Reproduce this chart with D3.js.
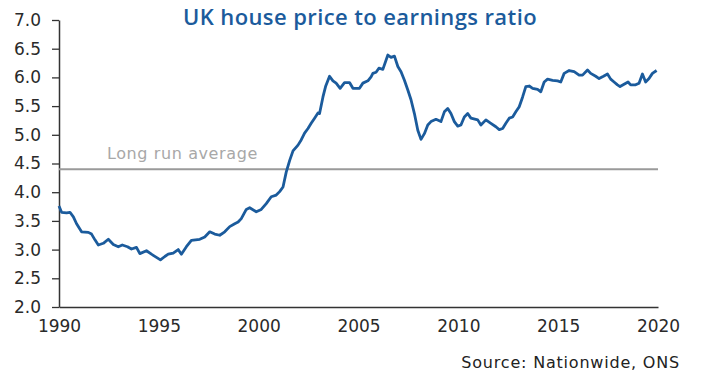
<!DOCTYPE html>
<html>
<head>
<meta charset="utf-8">
<script src="https://cdn.jsdelivr.net/npm/d3@7"></script>
<style>
  body { margin: 0; background: #fff; }
  text { font-family: "DejaVu Sans", sans-serif; }
</style>
</head>
<body>
<div id="chart"></div>
<script>
// UK house price to earnings ratio
const years = [
  1990.0, 1990.13, 1990.38, 1990.55, 1990.72, 1990.88, 1991.13, 1991.47, 1991.63, 1991.8,
  1991.97, 1992.22, 1992.47, 1992.72, 1992.97, 1993.17, 1993.43, 1993.63, 1993.88, 1994.05,
  1994.38, 1994.63, 1994.72, 1995.08, 1995.3, 1995.47, 1995.72, 1995.97, 1996.13, 1996.38,
  1996.63, 1997.05, 1997.3, 1997.55, 1997.8, 1998.05, 1998.3, 1998.55, 1998.8, 1998.97,
  1999.13, 1999.38, 1999.55, 1999.88, 2000.13, 2000.38, 2000.63, 2000.88, 2001.05, 2001.22,
  2001.38, 2001.55, 2001.72, 2001.97, 2002.13, 2002.3, 2002.47, 2002.63, 2002.8, 2002.97,
  2003.05, 2003.22, 2003.35, 2003.55, 2003.72, 2003.88, 2004.08, 2004.3, 2004.55, 2004.72,
  2005.05, 2005.22, 2005.47, 2005.63, 2005.72, 2005.88, 2006.02, 2006.22, 2006.47, 2006.63,
  2006.8, 2006.97, 2007.13, 2007.3, 2007.47, 2007.63, 2007.8, 2007.97, 2008.13, 2008.3,
  2008.47, 2008.63, 2008.88, 2009.13, 2009.3, 2009.47, 2009.63, 2009.8, 2009.97, 2010.13,
  2010.3, 2010.47, 2010.63, 2010.97, 2011.13, 2011.38, 2011.63, 2011.88, 2012.05, 2012.22,
  2012.38, 2012.55, 2012.72, 2012.88, 2013.05, 2013.22, 2013.38, 2013.55, 2013.72, 2013.97,
  2014.13, 2014.3, 2014.47, 2014.72, 2014.97, 2015.13, 2015.3, 2015.55, 2015.8, 2016.05,
  2016.22, 2016.47, 2016.63, 2016.88, 2017.05, 2017.27, 2017.47, 2017.63, 2017.8, 2017.97,
  2018.1, 2018.3, 2018.5, 2018.63, 2018.88, 2019.05, 2019.22, 2019.38, 2019.55, 2019.72,
  2019.93
];
const ratios = [
  3.76, 3.65, 3.64, 3.65, 3.57, 3.45, 3.31, 3.30, 3.27, 3.17,
  3.08, 3.11, 3.18, 3.09, 3.05, 3.08, 3.05, 3.01, 3.04, 2.93,
  2.98, 2.92, 2.90, 2.82, 2.88, 2.92, 2.94, 3.00, 2.92, 3.05,
  3.16, 3.18, 3.22, 3.31, 3.27, 3.25, 3.31, 3.40, 3.45, 3.48,
  3.54, 3.70, 3.73, 3.66, 3.70, 3.80, 3.92, 3.95, 4.01, 4.09,
  4.35, 4.55, 4.72, 4.82, 4.91, 5.03, 5.11, 5.20, 5.29, 5.38,
  5.37, 5.66, 5.84, 6.02, 5.94, 5.90, 5.81, 5.91, 5.91, 5.81,
  5.81, 5.90, 5.94, 6.01, 6.07, 6.09, 6.16, 6.14, 6.39, 6.35,
  6.37, 6.19, 6.10, 5.95, 5.78, 5.61, 5.37, 5.08, 4.92, 5.02,
  5.17, 5.23, 5.27, 5.23, 5.40, 5.46, 5.37, 5.23, 5.15, 5.17,
  5.31, 5.37, 5.29, 5.26, 5.17, 5.26, 5.20, 5.14, 5.09, 5.11,
  5.20, 5.29, 5.31, 5.40, 5.49, 5.66, 5.84, 5.85, 5.81, 5.79,
  5.75, 5.92, 5.97, 5.95, 5.94, 5.92, 6.07, 6.12, 6.10, 6.04,
  6.04, 6.13, 6.07, 6.02, 5.98, 6.02, 6.06, 5.97, 5.92, 5.87,
  5.84, 5.88, 5.92, 5.87, 5.87, 5.90, 6.06, 5.92, 5.98, 6.07,
  6.12
];
const longRunAverage = 4.4;
const xTicks = [1990, 1995, 2000, 2005, 2010, 2015, 2020];
const yTicks = [2.0, 2.5, 3.0, 3.5, 4.0, 4.5, 5.0, 5.5, 6.0, 6.5, 7.0];

const width = 704, height = 386;
const blue = '#1b5b9c';

const svg = d3.select('#chart').append('svg')
  .attr('width', width)
  .attr('height', height);

const x = d3.scaleLinear().domain([1990, 2020]).range([59, 658]);
const y = d3.scaleLinear().domain([2, 7]).range([307, 20]);

// title
svg.append('text')
  .attr('x', 360)
  .attr('y', 25)
  .attr('text-anchor', 'middle')
  .style('font-family', '"Open Sans", sans-serif')
  .style('font-weight', 600)
  .style('font-size', '22px')
  .style('letter-spacing', '0.4px')
  .attr('fill', blue)
  .text('UK house price to earnings ratio');

// y axis
const yAxis = svg.append('g')
  .attr('transform', `translate(${x(1990)},0)`)
  .call(d3.axisLeft(y).tickValues(yTicks).tickFormat(d3.format('.1f')).tickSizeInner(7).tickSizeOuter(0).tickPadding(11));

// x axis
const xAxis = svg.append('g')
  .attr('transform', `translate(0,${y(2)})`)
  .call(d3.axisBottom(x).tickValues(xTicks).tickFormat(d3.format('d')).tickSize(0).tickPadding(13));

[yAxis, xAxis].forEach(g => {
  g.select('.domain').attr('stroke', '#333').attr('stroke-width', 1.5);
  g.selectAll('.tick line').attr('stroke', '#333').attr('stroke-width', 1.3);
  g.selectAll('.tick text')
    .style('font-family', '"DejaVu Sans", sans-serif')
    .style('font-size', '17px')
    .attr('fill', '#2a2a2a');
});

// long run average
svg.append('line')
  .attr('x1', x(1990))
  .attr('x2', x(2020))
  .attr('y1', y(longRunAverage))
  .attr('y2', y(longRunAverage))
  .attr('stroke', '#9a9a9a')
  .attr('stroke-width', 2);

svg.append('text')
  .attr('x', 107)
  .attr('y', y(longRunAverage) - 10)
  .style('font-size', '16px')
  .style('letter-spacing', '0.6px')
  .attr('fill', '#a8a8a8')
  .text('Long run average');

// ratio line
const line = d3.line()
  .x((d, i) => x(years[i]))
  .y(d => y(d));

svg.append('path')
  .datum(ratios)
  .attr('d', line)
  .attr('fill', 'none')
  .attr('stroke', blue)
  .attr('stroke-width', 2.8)
  .attr('stroke-linejoin', 'round');

// source
svg.append('text')
  .attr('x', 680)
  .attr('y', 368)
  .attr('text-anchor', 'end')
  .style('font-size', '16px')
  .style('letter-spacing', '0.8px')
  .attr('fill', '#222')
  .text('Source: Nationwide, ONS');
</script>
</body>
</html>
